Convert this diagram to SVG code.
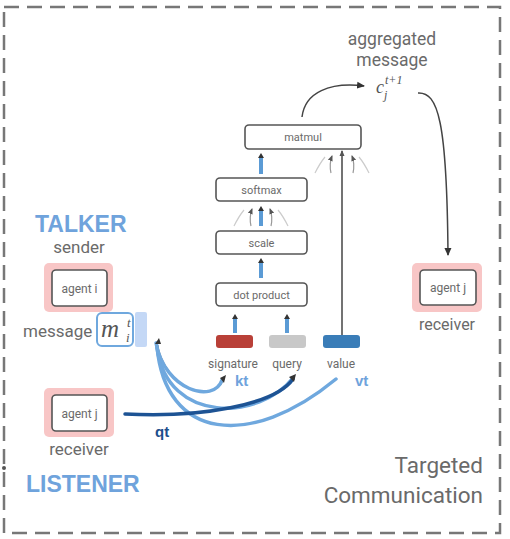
<svg xmlns="http://www.w3.org/2000/svg" width="510" height="539" viewBox="0 0 510 539">
<style>
.t{font-family:Roboto,"Liberation Sans",sans-serif;font-weight:400;fill:#6a6a6a}
.box{fill:#fff;stroke:#555;stroke-width:1.6}
.pink{fill:#f8c6c6}
.big{font-family:"Liberation Sans",Arial,sans-serif;font-weight:bold;fill:#6fa3dc;font-size:23px}
.math{font-family:"Liberation Serif","DejaVu Serif",serif;font-style:italic;fill:#555}
.lb{fill:none;stroke:#6fa8de;stroke-width:3.5;stroke-linecap:round}
.db{fill:none;stroke:#1d5394;stroke-width:3.5;stroke-linecap:round}
.blk{fill:none;stroke:#444;stroke-width:1.5}
.fa{fill:none;stroke:#999;stroke-width:1.2}
.fa2{fill:none;stroke:#ccc;stroke-width:1.2}
.ba{stroke:#5b9bd5;stroke-width:4}
</style>
<defs>
<marker id="ah" markerWidth="8" markerHeight="8" refX="7" refY="4" orient="auto" markerUnits="userSpaceOnUse">
<path d="M0,0.5 L8,4 L0,7.5 Z" fill="#333"/>
</marker>
<marker id="sm" markerWidth="6" markerHeight="6" refX="5" refY="3" orient="auto" markerUnits="userSpaceOnUse">
<path d="M0,0.5 L6,3 L0,5.5 Z" fill="#555"/>
</marker>
</defs>
<rect x="0" y="0" width="510" height="539" fill="#fff"/>
<rect id="frame" x="4" y="7" width="496" height="526" fill="none" stroke="#777" stroke-width="2.5" stroke-dasharray="15 8"/>
<circle cx="4" cy="468" r="2" fill="#555"/>

<g id="connectors">
<path class="blk" d="M302,117 C305,92 330,82 364,86" marker-end="url(#ah)"/>
<path class="blk" d="M418,93 C438,92 447,120 448,255" marker-end="url(#ah)"/>
<path class="blk" d="M342,336 L342,151" marker-end="url(#sm)"/>
<line class="ba" x1="261" y1="174" x2="261" y2="157"/>
<path d="M261,153 L258,158 L264,158 Z" fill="#333"/>
<line class="ba" x1="261" y1="226" x2="261" y2="210"/>
<path d="M261,206 L258,211 L264,211 Z" fill="#333"/>
<line class="ba" x1="261" y1="278" x2="261" y2="262"/>
<path d="M261,258 L258,263 L264,263 Z" fill="#333"/>
<line class="ba" x1="235" y1="333" x2="235" y2="318"/>
<path d="M235,314 L232,319 L238,319 Z" fill="#333"/>
<line class="ba" x1="287" y1="333" x2="287" y2="318"/>
<path d="M287,314 L284,319 L290,319 Z" fill="#333"/>
<path class="fa2" d="M315,173 Q320,163 325,157"/>
<path class="fa" d="M331,173 Q329,164 332,156" marker-end="url(#sm)"/>
<path class="fa" d="M353,173 Q355,164 352,156" marker-end="url(#sm)"/>
<path class="fa2" d="M369,173 Q364,163 359,157"/>
<path class="fa2" d="M234,226 Q239,216 244,210"/>
<path class="fa" d="M251,226 Q249,217 252,209" marker-end="url(#sm)"/>
<path class="fa" d="M271,226 Q273,217 270,209" marker-end="url(#sm)"/>
<path class="fa2" d="M288,226 Q283,216 278,210"/>
<path class="lb" d="M157,348 C168,425 260,420 293,378"/>
<path class="lb" d="M157,346 C165,440 250,450 336,379"/>
<path d="M157,342 C165,390 215,405 224,379" fill="none" stroke="#888" stroke-width="1"/>
<path class="lb" d="M156,343 C165,391 214,404 222,380"/>
<path d="M226,375 L220,378 L224,383 Z" fill="#333"/>
<path class="db" d="M125,414 C200,418 275,405 293,379"/>
<path d="M296,374 L289,377 L294,382 Z" fill="#333"/>
<path d="M159,338 L155,344 L161,344 Z" fill="#333"/>
</g>

<g id="matmul"><rect class="box" x="245" y="125" width="116" height="24" rx="4"/><text class="t" x="303" y="141" font-size="11" text-anchor="middle">matmul</text></g>
<g id="softmax"><rect class="box" x="216" y="178" width="91" height="23" rx="4"/><text class="t" x="261.5" y="194" font-size="11" text-anchor="middle">softmax</text></g>
<g id="scale"><rect class="box" x="216" y="231" width="91" height="23" rx="4"/><text class="t" x="261.5" y="247" font-size="11" text-anchor="middle">scale</text></g>
<g id="dotproduct"><rect class="box" x="216" y="283" width="91" height="23" rx="4"/><text class="t" x="261.5" y="299" font-size="11" text-anchor="middle">dot product</text></g>

<g id="signature"><rect x="216" y="335" width="37" height="13" rx="3" fill="#b94038"/><text class="t" x="233" y="368" font-size="12" text-anchor="middle">signature</text><text x="235" y="386" font-family="Liberation Sans,Arial,sans-serif" font-weight="bold" font-size="15" fill="#6fa3dc">kt</text></g>
<g id="query"><rect x="269" y="335" width="37" height="13" rx="3" fill="#c8c8c8"/><text class="t" x="287" y="368" font-size="12" text-anchor="middle">query</text></g>
<g id="value"><rect x="323" y="335" width="37" height="13" rx="3" fill="#3a7db8"/><text class="t" x="341" y="368" font-size="12" text-anchor="middle">value</text><text x="355" y="386" font-family="Liberation Sans,Arial,sans-serif" font-weight="bold" font-size="15" fill="#6fa3dc">vt</text></g>
<text x="155" y="437" font-family="Liberation Sans,Arial,sans-serif" font-weight="bold" font-size="15" fill="#1d4f8c">qt</text>

<g id="aggregated">
<text class="t" x="392" y="45" font-size="17.5" text-anchor="middle">aggregated</text>
<text class="t" x="392" y="66" font-size="17.5" text-anchor="middle">message</text>
<text class="math" x="376" y="93" font-size="18">c</text>
<text class="math" x="384" y="99" font-size="12">j</text>
<text class="math" x="385" y="84" font-size="12">t+1</text>
</g>

<g id="talker">
<text class="big" x="35" y="232">TALKER</text>
<text class="t" x="79" y="253" font-size="17" text-anchor="middle">sender</text>
<rect class="pink" x="44" y="263" width="69" height="49" rx="5"/>
<rect class="box" x="52" y="270" width="55" height="36" rx="4"/>
<text class="t" x="79.5" y="293" font-size="12" text-anchor="middle">agent i</text>
<text class="t" x="23" y="337" font-size="17">message</text>
<rect x="97" y="313" width="36" height="33" rx="5" fill="#fff" stroke="#6fa8de" stroke-width="2"/>
<text class="math" x="101" y="337" font-size="25" fill="#333">m</text>
<text class="math" x="127" y="327" font-size="13" fill="#333">t</text>
<text class="math" x="126" y="342" font-size="13" fill="#333">i</text>
<rect x="135" y="312" width="12" height="35" rx="2" fill="#c4d8f6"/>
</g>

<g id="listener">
<rect class="pink" x="44" y="388" width="70" height="49" rx="5"/>
<rect class="box" x="52" y="395" width="55" height="36" rx="4"/>
<text class="t" x="79.5" y="418" font-size="12" text-anchor="middle">agent j</text>
<text class="t" x="79" y="455" font-size="17" text-anchor="middle">receiver</text>
<text class="big" x="26" y="492">LISTENER</text>
</g>

<g id="receiver">
<rect class="pink" x="412" y="263" width="70" height="49" rx="5"/>
<rect class="box" x="420" y="270" width="56" height="35" rx="4"/>
<text class="t" x="448" y="292" font-size="12" text-anchor="middle">agent j</text>
<text class="t" x="447" y="330" font-size="16" text-anchor="middle">receiver</text>
</g>

<g id="title">
<text class="t" x="483" y="473" font-size="22.5" text-anchor="end">Targeted</text>
<text class="t" x="483" y="503" font-size="22.5" text-anchor="end">Communication</text>
</g>
</svg>
